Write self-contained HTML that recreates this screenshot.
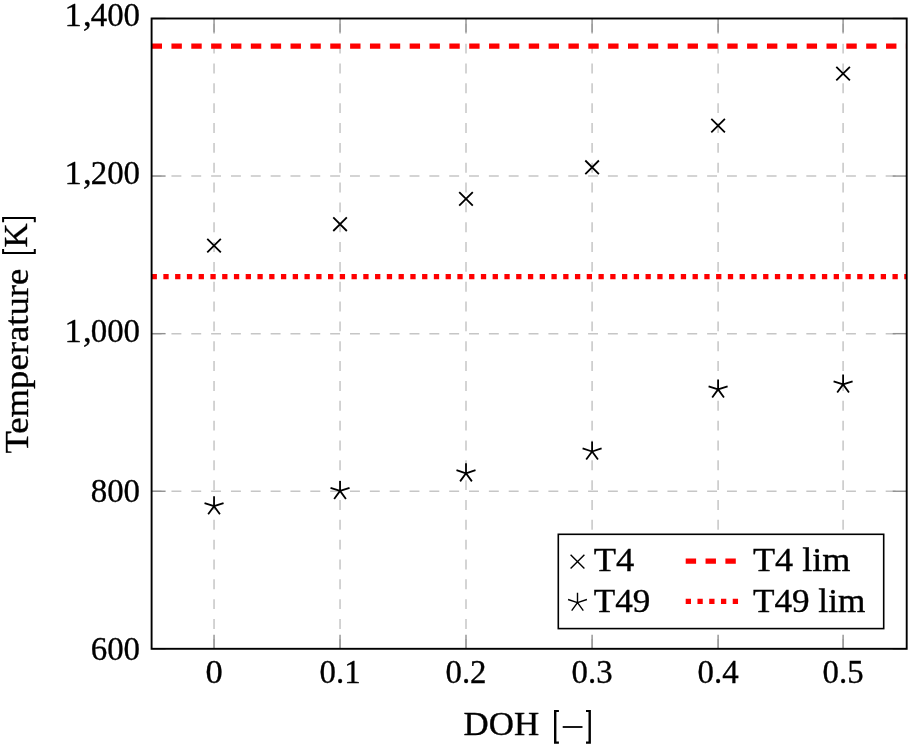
<!DOCTYPE html><html><head><meta charset="utf-8"><style>html,body{margin:0;padding:0;background:#fff;}svg{display:block;will-change:transform;}text{font-family:"Liberation Serif",serif;fill:#000;stroke:#000;stroke-width:0.35px;}</style></head><body>
<svg width="911" height="747" viewBox="0 0 911 747">
<rect width="911" height="747" fill="#fff"/>
<line x1="214.05" y1="648.8" x2="214.05" y2="18.5" stroke="#c6c6c6" stroke-width="1.5" stroke-dasharray="9.92 9.92" fill="none"/>
<line x1="340.05" y1="648.8" x2="340.05" y2="18.5" stroke="#c6c6c6" stroke-width="1.5" stroke-dasharray="9.92 9.92" fill="none"/>
<line x1="466.00" y1="648.8" x2="466.00" y2="18.5" stroke="#c6c6c6" stroke-width="1.5" stroke-dasharray="9.92 9.92" fill="none"/>
<line x1="592.10" y1="648.8" x2="592.10" y2="18.5" stroke="#c6c6c6" stroke-width="1.5" stroke-dasharray="9.92 9.92" fill="none"/>
<line x1="718.10" y1="648.8" x2="718.10" y2="18.5" stroke="#c6c6c6" stroke-width="1.5" stroke-dasharray="9.92 9.92" fill="none"/>
<line x1="843.10" y1="648.8" x2="843.10" y2="18.5" stroke="#c6c6c6" stroke-width="1.5" stroke-dasharray="9.92 9.92" fill="none"/>
<line x1="151.6" y1="491.25" x2="906.7" y2="491.25" stroke="#c6c6c6" stroke-width="1.5" stroke-dasharray="9.92 9.92" fill="none"/>
<line x1="151.6" y1="333.65" x2="906.7" y2="333.65" stroke="#c6c6c6" stroke-width="1.5" stroke-dasharray="9.92 9.92" fill="none"/>
<line x1="151.6" y1="176.05" x2="906.7" y2="176.05" stroke="#c6c6c6" stroke-width="1.5" stroke-dasharray="9.92 9.92" fill="none"/>
<line x1="214.05" y1="648.8" x2="214.05" y2="634.8" stroke="#909090" stroke-width="1.4"/>
<line x1="214.05" y1="18.5" x2="214.05" y2="32.5" stroke="#909090" stroke-width="1.4"/>
<line x1="340.05" y1="648.8" x2="340.05" y2="634.8" stroke="#909090" stroke-width="1.4"/>
<line x1="340.05" y1="18.5" x2="340.05" y2="32.5" stroke="#909090" stroke-width="1.4"/>
<line x1="466.00" y1="648.8" x2="466.00" y2="634.8" stroke="#909090" stroke-width="1.4"/>
<line x1="466.00" y1="18.5" x2="466.00" y2="32.5" stroke="#909090" stroke-width="1.4"/>
<line x1="592.10" y1="648.8" x2="592.10" y2="634.8" stroke="#909090" stroke-width="1.4"/>
<line x1="592.10" y1="18.5" x2="592.10" y2="32.5" stroke="#909090" stroke-width="1.4"/>
<line x1="718.10" y1="648.8" x2="718.10" y2="634.8" stroke="#909090" stroke-width="1.4"/>
<line x1="718.10" y1="18.5" x2="718.10" y2="32.5" stroke="#909090" stroke-width="1.4"/>
<line x1="843.10" y1="648.8" x2="843.10" y2="634.8" stroke="#909090" stroke-width="1.4"/>
<line x1="843.10" y1="18.5" x2="843.10" y2="32.5" stroke="#909090" stroke-width="1.4"/>
<line x1="151.6" y1="648.80" x2="165.6" y2="648.80" stroke="#909090" stroke-width="1.4"/>
<line x1="906.7" y1="648.80" x2="892.7" y2="648.80" stroke="#909090" stroke-width="1.4"/>
<line x1="151.6" y1="491.25" x2="165.6" y2="491.25" stroke="#909090" stroke-width="1.4"/>
<line x1="906.7" y1="491.25" x2="892.7" y2="491.25" stroke="#909090" stroke-width="1.4"/>
<line x1="151.6" y1="333.65" x2="165.6" y2="333.65" stroke="#909090" stroke-width="1.4"/>
<line x1="906.7" y1="333.65" x2="892.7" y2="333.65" stroke="#909090" stroke-width="1.4"/>
<line x1="151.6" y1="176.05" x2="165.6" y2="176.05" stroke="#909090" stroke-width="1.4"/>
<line x1="906.7" y1="176.05" x2="892.7" y2="176.05" stroke="#909090" stroke-width="1.4"/>
<line x1="151.6" y1="18.50" x2="165.6" y2="18.50" stroke="#909090" stroke-width="1.4"/>
<line x1="906.7" y1="18.50" x2="892.7" y2="18.50" stroke="#909090" stroke-width="1.4"/>
<line x1="151.6" y1="46.1" x2="906.7" y2="46.1" stroke="#ff0000" stroke-width="5.3" stroke-dasharray="10.4 9.45"/>
<line x1="151.6" y1="276.6" x2="906.7" y2="276.6" stroke="#ff0000" stroke-width="5.3" stroke-dasharray="5.3 6.46"/>
<path d="M207.25,238.80L220.85,252.40M207.25,252.40L220.85,238.80" stroke="#000" stroke-width="1.8" fill="none"/>
<path d="M333.25,217.40L346.85,231.00M333.25,231.00L346.85,217.40" stroke="#000" stroke-width="1.8" fill="none"/>
<path d="M459.20,192.10L472.80,205.70M459.20,205.70L472.80,192.10" stroke="#000" stroke-width="1.8" fill="none"/>
<path d="M585.30,160.50L598.90,174.10M585.30,174.10L598.90,160.50" stroke="#000" stroke-width="1.8" fill="none"/>
<path d="M711.30,118.80L724.90,132.40M711.30,132.40L724.90,118.80" stroke="#000" stroke-width="1.8" fill="none"/>
<path d="M836.30,66.80L849.90,80.40M836.30,80.40L849.90,66.80" stroke="#000" stroke-width="1.8" fill="none"/>
<path d="M214.05,506.20L214.05,496.20M214.05,506.20L204.54,503.11M214.05,506.20L208.17,514.29M214.05,506.20L219.93,514.29M214.05,506.20L223.56,503.11" stroke="#000" stroke-width="1.8" fill="none" stroke-linejoin="round"/>
<path d="M340.05,490.90L340.05,480.90M340.05,490.90L330.54,487.81M340.05,490.90L334.17,498.99M340.05,490.90L345.93,498.99M340.05,490.90L349.56,487.81" stroke="#000" stroke-width="1.8" fill="none" stroke-linejoin="round"/>
<path d="M466.00,473.30L466.00,463.30M466.00,473.30L456.49,470.21M466.00,473.30L460.12,481.39M466.00,473.30L471.88,481.39M466.00,473.30L475.51,470.21" stroke="#000" stroke-width="1.8" fill="none" stroke-linejoin="round"/>
<path d="M592.10,451.50L592.10,441.50M592.10,451.50L582.59,448.41M592.10,451.50L586.22,459.59M592.10,451.50L597.98,459.59M592.10,451.50L601.61,448.41" stroke="#000" stroke-width="1.8" fill="none" stroke-linejoin="round"/>
<path d="M718.10,389.40L718.10,379.40M718.10,389.40L708.59,386.31M718.10,389.40L712.22,397.49M718.10,389.40L723.98,397.49M718.10,389.40L727.61,386.31" stroke="#000" stroke-width="1.8" fill="none" stroke-linejoin="round"/>
<path d="M843.10,384.40L843.10,374.40M843.10,384.40L833.59,381.31M843.10,384.40L837.22,392.49M843.10,384.40L848.98,392.49M843.10,384.40L852.61,381.31" stroke="#000" stroke-width="1.8" fill="none" stroke-linejoin="round"/>
<rect x="151.6" y="18.5" width="755.1" height="630.3" fill="none" stroke="#000" stroke-width="1.9"/>
<rect x="558.3" y="534.3" width="325.4000000000001" height="94.30000000000007" fill="#fff" stroke="#000" stroke-width="1.6"/>
<path d="M570.60,554.70L584.40,568.50M570.60,568.50L584.40,554.70" stroke="#000" stroke-width="1.4" fill="none"/>
<path d="M577.50,602.60L577.50,592.70M577.50,602.60L568.08,599.54M577.50,602.60L571.68,610.61M577.50,602.60L583.32,610.61M577.50,602.60L586.92,599.54" stroke="#000" stroke-width="1.4" fill="none" stroke-linejoin="round"/>
<line x1="685.7" y1="561.1" x2="742.2" y2="561.1" stroke="#ff0000" stroke-width="5.3" stroke-dasharray="10.4 9.45"/>
<line x1="685.7" y1="601.4" x2="742.2" y2="601.4" stroke="#ff0000" stroke-width="5.3" stroke-dasharray="5.3 6.46"/>
<text x="593.8" y="570.6" font-size="34" text-anchor="start" textLength="40.6" lengthAdjust="spacingAndGlyphs" >T4</text>
<text x="593.8" y="611.7" font-size="34" text-anchor="start" textLength="56.6" lengthAdjust="spacingAndGlyphs" >T49</text>
<text x="752.9" y="570.6" font-size="34" text-anchor="start" textLength="97.5" lengthAdjust="spacingAndGlyphs" >T4 lim</text>
<text x="752.9" y="611.5" font-size="34" text-anchor="start" textLength="112.4" lengthAdjust="spacingAndGlyphs" >T49 lim</text>
<text x="140.1" y="26.0" font-size="34.5" text-anchor="end" textLength="49.4" lengthAdjust="spacingAndGlyphs" >400</text>
<text x="91.6" y="26.0" font-size="34.5" text-anchor="end" >,</text>
<text x="81.8" y="26.0" font-size="34.5" text-anchor="end" >1</text>
<text x="140.1" y="183.8" font-size="34.5" text-anchor="end" textLength="49.4" lengthAdjust="spacingAndGlyphs" >200</text>
<text x="91.6" y="183.8" font-size="34.5" text-anchor="end" >,</text>
<text x="81.8" y="183.8" font-size="34.5" text-anchor="end" >1</text>
<text x="140.1" y="341.6" font-size="34.5" text-anchor="end" textLength="49.4" lengthAdjust="spacingAndGlyphs" >000</text>
<text x="91.6" y="341.6" font-size="34.5" text-anchor="end" >,</text>
<text x="81.8" y="341.6" font-size="34.5" text-anchor="end" >1</text>
<text x="140.1" y="502.4" font-size="34.5" text-anchor="end" textLength="49.4" lengthAdjust="spacingAndGlyphs" >800</text>
<text x="140.1" y="659.6" font-size="34.5" text-anchor="end" textLength="49.4" lengthAdjust="spacingAndGlyphs" >600</text>
<text x="214.05" y="683.2" font-size="34.5" text-anchor="middle" >0</text>
<text x="340.05" y="683.2" font-size="34.5" text-anchor="middle" textLength="41.0" lengthAdjust="spacingAndGlyphs" >0.1</text>
<text x="466.00" y="683.2" font-size="34.5" text-anchor="middle" textLength="41.0" lengthAdjust="spacingAndGlyphs" >0.2</text>
<text x="592.10" y="683.2" font-size="34.5" text-anchor="middle" textLength="41.0" lengthAdjust="spacingAndGlyphs" >0.3</text>
<text x="718.10" y="683.2" font-size="34.5" text-anchor="middle" textLength="41.0" lengthAdjust="spacingAndGlyphs" >0.4</text>
<text x="843.10" y="683.2" font-size="34.5" text-anchor="middle" textLength="41.0" lengthAdjust="spacingAndGlyphs" >0.5</text>
<text x="463.6" y="735.3" font-size="34" text-anchor="start" textLength="75.6" lengthAdjust="spacingAndGlyphs" >DOH</text>
<path d="M554,710H558.9V712.1H556.4V741.6H558.9V743.7H554Z" fill="#000"/>
<path d="M590.9,710H586V712.1H588.5V741.6H586V743.7H590.9Z" fill="#000"/>
<rect x="562.7" y="726.1" width="19.8" height="1.8" fill="#000"/>
<text x="0" y="0" font-size="33.5" text-anchor="start" transform="translate(27.7,453.6) rotate(-90)" textLength="185" lengthAdjust="spacingAndGlyphs">Temperature</text>
<text x="0" y="0" font-size="33.5" text-anchor="start" transform="translate(27.4,247.6) rotate(-90)">K</text>
<path d="M2.1,249H4.1V251.9H33.8V249H35.8V253.9H2.1Z" fill="#000"/>
<path d="M2.1,222.3H4.1V219H33.8V222.3H35.8V217H2.1Z" fill="#000"/>
</svg></body></html>
